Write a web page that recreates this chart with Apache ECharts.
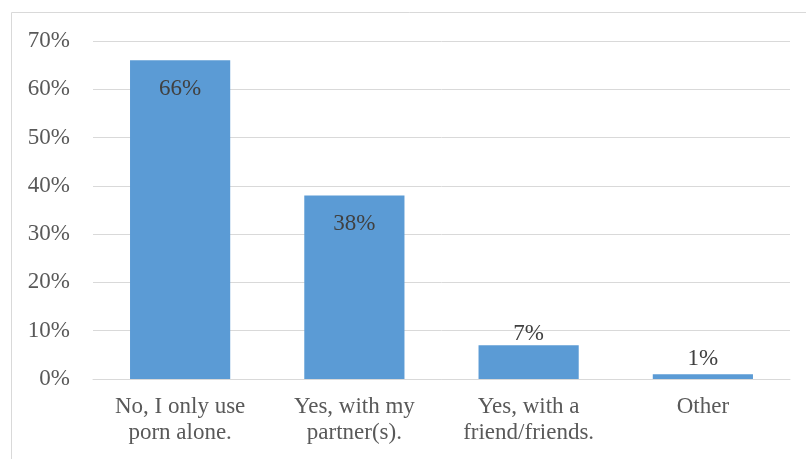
<!DOCTYPE html>
<html><head><meta charset="utf-8">
<script src="https://cdn.jsdelivr.net/npm/echarts@6/dist/echarts.min.js"></script>
<style>html,body{margin:0;padding:0;background:#fff}#c{width:806px;height:459px}</style>
</head><body><div id="c"></div>
<script>
var categories = ['No, I only use\nporn alone.', 'Yes, with my\npartner(s).', 'Yes, with a\nfriend/friends.', 'Other'];
var values = [66, 38, 7, 1];
var yTicks = [0, 10, 20, 30, 40, 50, 60, 70];

var font = '"Liberation Serif", "Times New Roman", serif';
var chart = echarts.init(document.getElementById('c'));
var topDist = [0, 0, 0, 4];
var data = values.map(function (v, i) {
  var inside = v > 20;
  return {
    value: v,
    label: inside ? { position: 'insideTop', distance: 17 } : { position: 'top', distance: topDist[i] }
  };
});
chart.setOption({
  animation: false,
  graphic: [{ type: 'rect', shape: { x: 11.5, y: 12.5, width: 820, height: 470 }, style: { fill: 'none', stroke: '#d9d9d9', lineWidth: 1 }, silent: true }],
  grid: { left: 93, right: 16, top: 41, bottom: 80, containLabel: false },
  xAxis: {
    type: 'category', data: categories,
    axisLine: { lineStyle: { color: '#d9d9d9', width: 1 } },
    axisTick: { show: false },
    axisLabel: { color: '#595959', fontFamily: font, fontSize: 23, lineHeight: 26, margin: 15, interval: 0 }
  },
  yAxis: {
    type: 'value', min: yTicks[0], max: yTicks[yTicks.length - 1], interval: 10,
    axisLine: { show: false }, axisTick: { show: false },
    splitLine: { lineStyle: { color: '#d9d9d9', width: 1 } },
    axisLabel: { color: '#595959', fontFamily: font, fontSize: 23, margin: 23, formatter: '{value}%' }
  },
  series: [{
    type: 'bar', data: data, barWidth: '57.5%', itemStyle: { color: '#5b9bd5' },
    label: { show: true, color: '#404040', fontFamily: font, fontSize: 23, formatter: '{c}%' }
  }]
});
</script></body></html>
